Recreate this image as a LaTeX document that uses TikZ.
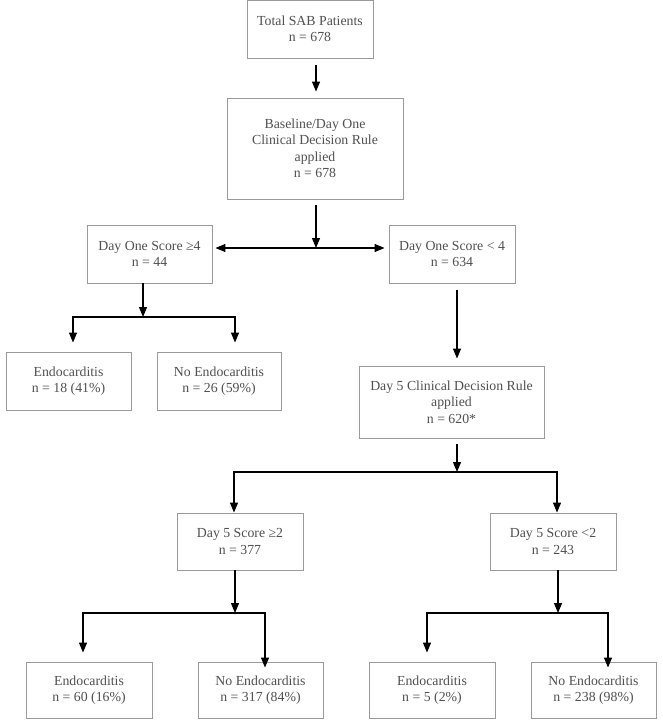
\documentclass[tikz,border=0pt]{standalone}
\usepackage{fontspec}
\setmainfont{Liberation Serif}
\usepackage{tikz}
\usetikzlibrary{arrows.meta,positioning}
\definecolor{boxline}{HTML}{9A9A9A}
\definecolor{boxtext}{HTML}{505050}
\tikzset{
  stagebox/.style={
    rectangle, draw=boxline, line width=0.9pt, fill=white,
    text=boxtext, align=center, inner sep=0pt,
    minimum width=126pt, minimum height=58pt,
    font=\fontsize{13.8}{16.5}\selectfont
  },
  flowarrow/.style={-{Triangle[length=10pt,width=8pt]}, line width=1.2pt, color=black},
  twoarrow/.style={{Triangle[length=10pt,width=8pt]}-{Triangle[length=10pt,width=8pt]}, line width=1.2pt, color=black},
}

\begin{document}
\begin{tikzpicture}[x=1pt, y=-1pt]
  \useasboundingbox (0,0) rectangle (662,720);
  % stage one
  \node[stagebox] (total) at (310,29) {Total SAB Patients\\n = 678};
  \node[stagebox, minimum width=176pt, minimum height=101pt] (base) at (315,148.5) {Baseline/Day One\\Clinical Decision Rule\\applied\\n = 678};
  \node[stagebox, minimum width=125pt] (d1hi) at (149.5,254) {Day One Score ≥4\\n = 44};
  \node[stagebox] (d1lo) at (452,254) {Day One Score < 4\\n = 634};
  \node[stagebox, minimum width=125pt] (endoA) at (68.5,381) {Endocarditis\\n = 18 (41\%)};
  \node[stagebox, minimum width=124pt] (noendoA) at (219,381) {No Endocarditis\\n = 26 (59\%)};
  % stage two
  \node[stagebox, minimum width=185pt, minimum height=72pt] (d5rule) at (451.5,402) {Day 5 Clinical Decision Rule\\applied\\n = 620*};
  \node[stagebox, minimum height=57pt] (d5hi) at (240,541.5) {Day 5 Score ≥2\\n = 377};
  \node[stagebox, minimum height=57pt] (d5lo) at (553,541.5) {Day 5 Score <2\\n = 243};
  \node[stagebox, minimum height=56pt] (endoB) at (89,690) {Endocarditis\\n = 60 (16\%)};
  \node[stagebox, minimum width=125pt, minimum height=56pt] (noendoB) at (260.5,690) {No Endocarditis\\n = 317 (84\%)};
  \node[stagebox, minimum height=56pt] (endoC) at (432,690) {Endocarditis\\n = 5 (2\%)};
  \node[stagebox, minimum width=125pt, minimum height=56pt] (noendoC) at (593.5,690) {No Endocarditis\\n = 238 (98\%)};

  \coordinate (split1) at (316,248);
  \coordinate (fork1) at (143,317);
  \coordinate (fork1l) at (73,317);
  \coordinate (fork1r) at (235,317);
  \coordinate (fork2) at (457,472);
  \coordinate (fork2l) at (234,472);
  \coordinate (fork2r) at (557,472);
  \coordinate (fork3) at (235,613);
  \coordinate (fork3l) at (83,613);
  \coordinate (fork3r) at (265,613);
  \coordinate (fork4) at (558,613);
  \coordinate (fork4l) at (427,613);
  \coordinate (fork4r) at (608,613);

  \draw[flowarrow, shorten <=7pt, shorten >=6pt] (total.south -| split1) -- (split1 |- base.north);
  \draw[flowarrow, shorten <=6pt] (base.south -| split1) -- (split1);
  \draw[twoarrow, shorten <=3pt, shorten >=4pt] (split1 -| d1hi.east) -- (split1 -| d1lo.west);

  \draw[flowarrow] (d1hi.south -| fork1) -- (fork1);
  \draw[flowarrow, shorten >=9pt] (fork1) -- (fork1l) -- (fork1l |- endoA.north);
  \draw[flowarrow, shorten >=9pt] (fork1) -- (fork1r) -- (fork1r |- noendoA.north);

  \draw[flowarrow, shorten <=7pt, shorten >=7pt] (d1lo.south -| fork2) -- (fork2 |- d5rule.north);
  \draw[flowarrow, shorten <=6pt] (d5rule.south -| fork2) -- (fork2);
  \draw[flowarrow] (fork2) -- (fork2l) -- (fork2l |- d5hi.north);
  \draw[flowarrow] (fork2) -- (fork2r) -- (fork2r |- d5lo.north);

  \draw[flowarrow] (d5hi.south -| fork3) -- (fork3);
  \draw[flowarrow, shorten >=9pt] (fork3) -- (fork3l) -- (fork3l |- endoB.north);
  \draw[flowarrow, shorten >=-6pt] (fork3) -- (fork3r) -- (fork3r |- noendoB.north);

  \draw[flowarrow] (d5lo.south -| fork4) -- (fork4);
  \draw[flowarrow, shorten >=9pt] (fork4) -- (fork4l) -- (fork4l |- endoC.north);
  \draw[flowarrow, shorten >=-6pt] (fork4) -- (fork4r) -- (fork4r |- noendoC.north);
\end{tikzpicture}
\end{document}
